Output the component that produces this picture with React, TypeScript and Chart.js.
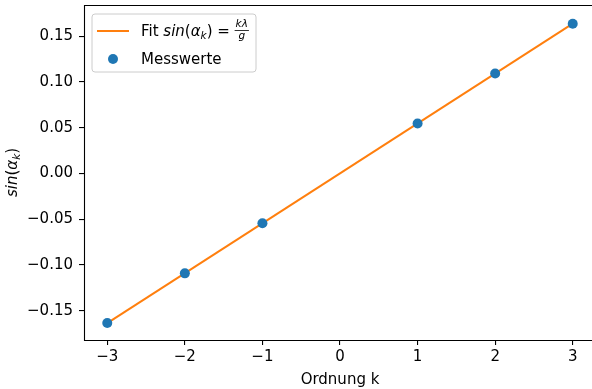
import React, { useEffect, useRef } from "react";
import { Chart, registerables } from "chart.js";

Chart.register(...registerables);

// Measured diffraction orders and sine of the diffraction angle
const orders = [-3, -2, -1, 1, 2, 3];
const sinAlpha = [-0.1635, -0.1092, -0.0545, 0.0545, 0.1092, 0.1635];

// Linear fit sin(alpha_k) = k * lambda / g, evaluated at the ends of the range
const fitOrders = [-3, 3];
const fitSin = [-0.1636, 0.1636];

const xTicks = [-3, -2, -1, 0, 1, 2, 3];
const yTicks = [-0.15, -0.1, -0.05, 0, 0.05, 0.1, 0.15];

const FONT = "'DejaVu Sans', sans-serif";
const FS = 15;
const BLUE = "#1f77b4";
const ORANGE = "#ff7f0e";
const DOT = 5;

type Run = { text: string; italic?: boolean; size?: number; dy?: number };

function setFont(ctx: CanvasRenderingContext2D, r: Run) {
  ctx.font = `${r.italic ? "italic " : ""}${r.size ?? FS}px ${FONT}`;
}

function runWidth(ctx: CanvasRenderingContext2D, r: Run) {
  setFont(ctx, r);
  return ctx.measureText(r.text).width;
}

function drawRuns(ctx: CanvasRenderingContext2D, x: number, y: number, runs: Run[]) {
  let cx = x;
  ctx.textBaseline = "alphabetic";
  ctx.textAlign = "left";
  for (const r of runs) {
    setFont(ctx, r);
    ctx.fillText(r.text, cx, y + (r.dy ?? 0));
    cx += ctx.measureText(r.text).width;
  }
  return cx;
}

const sinRuns: Run[] = [
  { text: "sin", italic: true },
  { text: "(" },
  { text: "α", italic: true },
  { text: "k", italic: true, size: 10.5, dy: 3 },
  { text: ")" },
];

const decorations = {
  id: "decorations",
  afterDraw(chart: Chart) {
    const ctx = chart.ctx;
    const a = chart.chartArea;
    ctx.save();

    // axes frame (the right spine lies beyond the visible page width)
    const l = Math.round(a.left) + 0.5;
    const t = Math.round(a.top) + 0.5;
    const b = Math.round(a.bottom) + 0.5;
    const r = Math.round(a.right) + 0.5;
    ctx.strokeStyle = "#000";
    ctx.lineWidth = 1.1;
    ctx.beginPath();
    ctx.moveTo(r, t);
    ctx.lineTo(l, t);
    ctx.lineTo(l, b);
    ctx.lineTo(r, b);
    ctx.lineTo(r, t);
    ctx.stroke();

    // legend box
    const lx = 92, ly = 14, lw = 164, lh = 58, rr = 3;
    ctx.beginPath();
    ctx.moveTo(lx + rr, ly);
    ctx.arcTo(lx + lw, ly, lx + lw, ly + lh, rr);
    ctx.arcTo(lx + lw, ly + lh, lx, ly + lh, rr);
    ctx.arcTo(lx, ly + lh, lx, ly, rr);
    ctx.arcTo(lx, ly, lx + lw, ly, rr);
    ctx.closePath();
    ctx.fillStyle = "rgba(255,255,255,0.8)";
    ctx.fill();
    ctx.strokeStyle = "#cccccc";
    ctx.lineWidth = 1;
    ctx.stroke();

    // legend: fit line entry
    ctx.strokeStyle = ORANGE;
    ctx.lineWidth = 2;
    ctx.beginPath();
    ctx.moveTo(97, 31);
    ctx.lineTo(129, 31);
    ctx.stroke();

    ctx.fillStyle = "#000";
    const x = drawRuns(ctx, 141, 36, [{ text: "Fit " }, ...sinRuns, { text: " = " }]);
    // fraction k·λ / g
    const num: Run = { text: "kλ", italic: true, size: 10.5 };
    const den: Run = { text: "g", italic: true, size: 10.5 };
    const nw = runWidth(ctx, num);
    const dw = runWidth(ctx, den);
    const fw = Math.max(nw, dw) + 2;
    drawRuns(ctx, x + (fw - nw) / 2, 27, [num]);
    drawRuns(ctx, x + (fw - dw) / 2, 39, [den]);
    ctx.fillRect(x, 30, fw, 0.8);

    // legend: measurement entry
    ctx.fillStyle = BLUE;
    ctx.beginPath();
    ctx.arc(113, 59, DOT, 0, Math.PI * 2);
    ctx.fill();
    ctx.fillStyle = "#000";
    drawRuns(ctx, 141, 64, [{ text: "Messwerte" }]);

    // y-axis title, rotated
    let tw = 0;
    for (const run of sinRuns) tw += runWidth(ctx, run);
    ctx.translate(17, (a.top + a.bottom) / 2);
    ctx.rotate(-Math.PI / 2);
    drawRuns(ctx, -tw / 2, 0, sinRuns);

    ctx.restore();
  },
};

function noOverflow(s: any) {
  s.paddingLeft = 0;
  s.paddingRight = 0;
  s.paddingTop = 0;
  s.paddingBottom = 0;
}

export default function App() {
  const ref = useRef<HTMLCanvasElement>(null);

  useEffect(() => {
    if (!ref.current) return;
    const fmtMinus = (s: string) => s.replace("-", "\u2212");
    const chart = new Chart(ref.current, {
      type: "scatter",
      data: {
        datasets: [
          {
            type: "line",
            label: "Fit",
            data: fitOrders.map((k, i) => ({ x: k, y: fitSin[i] })),
            borderColor: ORANGE,
            borderWidth: 2,
            pointRadius: 0,
            fill: false,
            order: 1,
          },
          {
            type: "scatter",
            label: "Messwerte",
            data: orders.map((k, i) => ({ x: k, y: sinAlpha[i] })),
            backgroundColor: BLUE,
            borderColor: BLUE,
            borderWidth: 0,
            pointRadius: DOT,
            order: 0,
          },
        ],
      },
      options: {
        animation: false,
        responsive: false,
        events: [],
        layout: { autoPadding: false, padding: { left: 0, top: 5, right: 0, bottom: 0 } },
        plugins: { legend: { display: false }, tooltip: { enabled: false } },
        scales: {
          x: {
            type: "linear",
            min: -3.3,
            max: 3.3,
            afterBuildTicks: (s: any) => {
              s.ticks = xTicks.map((v) => ({ value: v }));
            },
            afterFit: (s: any) => {
              s.height = 49;
              noOverflow(s);
            },
            border: { display: false },
            grid: { drawOnChartArea: false, drawTicks: true, tickLength: 5, color: "#000", lineWidth: 1.1 },
            ticks: {
              color: "#000",
              padding: 3,
              font: { family: FONT, size: FS },
              maxRotation: 0,
              callback: (v: any) => fmtMinus(String(v)),
            },
            title: {
              display: true,
              text: "Ordnung k",
              color: "#000",
              font: { family: FONT, size: FS },
              padding: { top: 1, bottom: 0 },
            },
          },
          y: {
            type: "linear",
            min: -0.182,
            max: 0.184,
            afterBuildTicks: (s: any) => {
              s.ticks = yTicks.map((v) => ({ value: v }));
            },
            afterFit: (s: any) => {
              s.width = 84;
              noOverflow(s);
            },
            border: { display: false },
            grid: { drawOnChartArea: false, drawTicks: true, tickLength: 5, color: "#000", lineWidth: 1.1 },
            ticks: {
              color: "#000",
              padding: 6,
              font: { family: FONT, size: FS },
              callback: (v: any) => fmtMinus(Number(v).toFixed(2)),
            },
          },
        },
      },
      plugins: [decorations],
    });
    return () => chart.destroy();
  }, []);

  return (
    <div
      style={{
        position: "fixed",
        left: 0,
        top: 0,
        width: 592,
        height: 389,
        overflow: "hidden",
        background: "#fff",
      }}
    >
      <canvas ref={ref} width={596} height={389} style={{ display: "block", width: 596, height: 389 }} />
    </div>
  );
}
